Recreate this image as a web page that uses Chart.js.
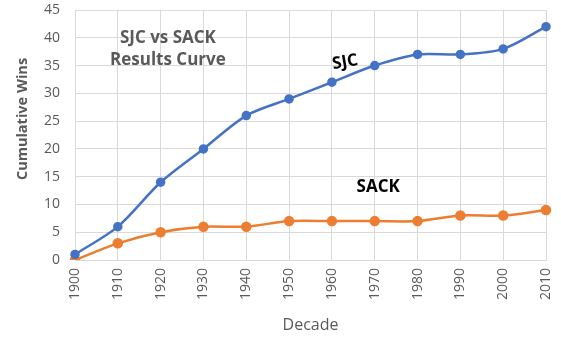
<!DOCTYPE html>
<html>
<head>
<meta charset="utf-8">
<script src="https://cdn.jsdelivr.net/npm/chart.js@4"></script>
<style>
  html, body { margin: 0; padding: 0; background: #fff; }
  #wrap { width: 561px; height: 338px; }
</style>
</head>
<body>
<div id="wrap"><canvas id="c" width="561" height="338"></canvas></div>
<script>
const decades = ['1900','1910','1920','1930','1940','1950','1960','1970','1980','1990','2000','2010'];
const sjcWins = [1, 6, 14, 20, 26, 29, 32, 35, 37, 37, 38, 42];
const sackWins = [0, 3, 5, 6, 6, 7, 7, 7, 7, 8, 8, 9];
const yTicks = { min: 0, max: 45, step: 5 };

const FONT = "'Open Sans', 'Liberation Sans', sans-serif";
const GRAY = '#595959';

// Text notes placed in data coordinates (category index, wins)
const notes = [
  { text: 'SJC vs SACK', x: 2.17, y: 40.0, color: GRAY, size: 17, rot: 0 },
  { text: 'Results Curve', x: 2.17, y: 36.0, color: GRAY, size: 17, rot: 0 },
  { text: 'SJC', x: 6.31, y: 35.6, color: '#000', size: 17, rot: -10 },
  { text: 'SACK', x: 7.08, y: 13.1, color: '#000', size: 17, rot: 0 }
];

const notePlugin = {
  id: 'notes',
  afterDatasetsDraw(chart) {
    const { ctx, scales, chartArea } = chart;
    notes.forEach(n => {
      const px = scales.x.getPixelForValue(n.x);
      const py = scales.y.getPixelForValue(n.y);
      ctx.save();
      ctx.translate(px, py);
      ctx.rotate(n.rot * Math.PI / 180);
      ctx.font = `bold ${n.size}px ${FONT}`;
      ctx.fillStyle = n.color;
      ctx.textAlign = 'center';
      ctx.textBaseline = 'middle';
      ctx.fillText(n.text, 0, 0);
      ctx.restore();
    });
    // vertical axis title, sitting a little above the plot's middle
    ctx.save();
    ctx.translate(23, (chartArea.top + chartArea.bottom) / 2 - 16);
    ctx.rotate(-Math.PI / 2);
    ctx.font = `bold 14.5px ${FONT}`;
    ctx.fillStyle = GRAY;
    ctx.textAlign = 'center';
    ctx.textBaseline = 'middle';
    ctx.fillText('Cumulative Wins', 0, 0);
    ctx.restore();
  }
};

new Chart(document.getElementById('c'), {
  type: 'line',
  data: {
    labels: decades,
    datasets: [
      {
        label: 'SJC',
        data: sjcWins,
        borderColor: '#4472C4',
        backgroundColor: '#4472C4',
        borderWidth: 2.5,
        pointRadius: 3.5,
        pointHoverRadius: 3.5,
        tension: 0.3
      },
      {
        label: 'SACK',
        data: sackWins,
        borderColor: '#ED7D31',
        backgroundColor: '#ED7D31',
        borderWidth: 2.5,
        pointRadius: 4,
        pointHoverRadius: 4,
        tension: 0.3
      }
    ]
  },
  options: {
    responsive: false,
    animation: false,
    layout: { padding: { top: 10, right: 15, bottom: 0, left: 12 } },
    plugins: {
      legend: { display: false },
      tooltip: { enabled: false },
      title: { display: false }
    },
    scales: {
      x: {
        offset: false,
        grid: { color: '#d9d9d9', lineWidth: 1, drawTicks: false },
        border: { color: '#d9d9d9' },
        ticks: {
          color: GRAY,
          font: { family: FONT, size: 14 },
          maxRotation: 90,
          minRotation: 90,
          padding: 8,
          autoSkip: false
        },
        title: {
          display: true,
          text: 'Decade',
          color: GRAY,
          font: { family: FONT, size: 16 },
          padding: { top: 4, bottom: 3 }
        },
        afterFit(scale) {
          scale.height = 78;
          scale.paddingLeft = 0;
          scale.paddingRight = 0;
        }
      },
      y: {
        min: yTicks.min,
        max: yTicks.max,
        grid: { color: '#d9d9d9', lineWidth: 1, drawTicks: false },
        border: { display: false },
        ticks: {
          stepSize: yTicks.step,
          color: GRAY,
          font: { family: FONT, size: 14 },
          padding: 15
        },
        title: { display: false },
        afterFit(scale) {
          scale.width = 63;
          scale.paddingTop = 0;
          scale.paddingBottom = 0;
        }
      }
    }
  },
  plugins: [notePlugin]
});
</script>
</body>
</html>
